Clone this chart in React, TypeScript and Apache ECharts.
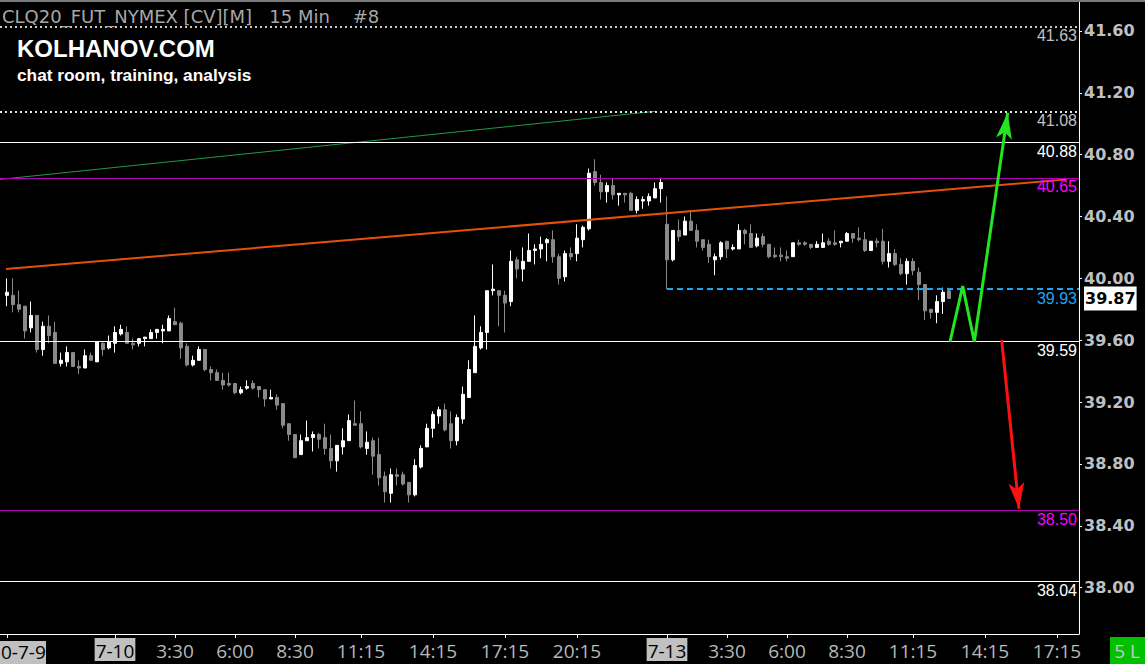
import React, { useEffect, useRef } from "react";
import * as echarts from "echarts";

// 15-minute bars, each [open, close, low, high]
const ohlc: number[][] = [
  [39.89, 39.91, 39.82, 40.0], [39.89, 39.83, 39.78, 40.0], [39.83, 39.8, 39.78, 39.92], [39.82, 39.66, 39.61, 39.82],
  [39.68, 39.76, 39.65, 39.85], [39.76, 39.54, 39.52, 39.76], [39.54, 39.69, 39.5, 39.72], [39.69, 39.63, 39.58, 39.76],
  [39.65, 39.45, 39.45, 39.72], [39.45, 39.47, 39.43, 39.52], [39.46, 39.52, 39.43, 39.56], [39.52, 39.43, 39.43, 39.52],
  [39.43, 39.42, 39.38, 39.47], [39.42, 39.5, 39.42, 39.54], [39.5, 39.47, 39.47, 39.52], [39.46, 39.59, 39.46, 39.59],
  [39.58, 39.54, 39.5, 39.59], [39.55, 39.59, 39.54, 39.63], [39.58, 39.65, 39.52, 39.69], [39.64, 39.67, 39.63, 39.7],
  [39.65, 39.58, 39.58, 39.69], [39.58, 39.57, 39.54, 39.61], [39.58, 39.61, 39.56, 39.61], [39.61, 39.62, 39.56, 39.62],
  [39.61, 39.65, 39.61, 39.67], [39.65, 39.67, 39.61, 39.67], [39.66, 39.67, 39.58, 39.7], [39.66, 39.74, 39.66, 39.76],
  [39.72, 39.7, 39.7, 39.81], [39.71, 39.55, 39.48, 39.72], [39.56, 39.44, 39.43, 39.58], [39.44, 39.47, 39.43, 39.5],
  [39.47, 39.54, 39.47, 39.56], [39.54, 39.41, 39.4, 39.54], [39.41, 39.39, 39.34, 39.43], [39.39, 39.34, 39.34, 39.41],
  [39.34, 39.31, 39.28, 39.39], [39.32, 39.31, 39.3, 39.39], [39.32, 39.26, 39.25, 39.32], [39.26, 39.28, 39.25, 39.3],
  [39.29, 39.3, 39.28, 39.34], [39.32, 39.29, 39.28, 39.34], [39.3, 39.28, 39.23, 39.3], [39.28, 39.22, 39.17, 39.28],
  [39.22, 39.23, 39.22, 39.28], [39.23, 39.18, 39.15, 39.25], [39.19, 39.05, 39.03, 39.19], [39.06, 38.99, 38.95, 39.06],
  [38.99, 38.84, 38.84, 38.99], [38.86, 38.95, 38.86, 38.99], [38.95, 38.97, 38.95, 39.08], [38.97, 38.99, 38.88, 39.01],
  [38.99, 38.96, 38.9, 39.0], [38.97, 38.9, 38.86, 39.06], [38.9, 38.82, 38.77, 38.99], [38.82, 38.92, 38.75, 38.92],
  [38.91, 38.95, 38.86, 39.03], [38.95, 39.08, 38.95, 39.12], [39.06, 39.05, 39.05, 39.21], [39.06, 38.91, 38.9, 39.14],
  [38.9, 38.94, 38.86, 39.01], [38.95, 38.85, 38.73, 38.97], [38.86, 38.71, 38.66, 38.97], [38.72, 38.62, 38.55, 38.75],
  [38.61, 38.73, 38.55, 38.77], [38.73, 38.72, 38.66, 38.77], [38.73, 38.67, 38.66, 38.75], [38.68, 38.6, 38.55, 38.68],
  [38.6, 38.79, 38.59, 38.83], [38.78, 38.9, 38.77, 38.92], [38.91, 39.03, 38.91, 39.06], [39.03, 39.12, 38.97, 39.14],
  [39.11, 39.15, 39.06, 39.17], [39.15, 39.02, 39.01, 39.19], [39.06, 38.95, 38.9, 39.14], [38.95, 39.1, 38.92, 39.12],
  [39.09, 39.25, 39.06, 39.3], [39.23, 39.41, 39.23, 39.47], [39.39, 39.56, 39.39, 39.76], [39.55, 39.65, 39.54, 39.69],
  [39.65, 39.92, 39.54, 39.92], [39.92, 39.93, 39.89, 40.09], [39.92, 39.89, 39.69, 39.92], [39.89, 39.84, 39.65, 39.92],
  [39.85, 40.11, 39.82, 40.18], [40.12, 40.06, 40.0, 40.14], [40.06, 40.11, 39.98, 40.2], [40.11, 40.18, 40.11, 40.29],
  [40.18, 40.19, 40.09, 40.22], [40.19, 40.22, 40.13, 40.27], [40.23, 40.25, 40.11, 40.26], [40.25, 40.14, 40.1, 40.31],
  [40.14, 40.0, 39.96, 40.16], [40.01, 40.16, 39.98, 40.18], [40.16, 40.14, 40.12, 40.2], [40.16, 40.26, 40.11, 40.35],
  [40.25, 40.33, 40.2, 40.34], [40.32, 40.68, 40.31, 40.71], [40.69, 40.62, 40.6, 40.77], [40.62, 40.56, 40.51, 40.67],
  [40.56, 40.6, 40.49, 40.62], [40.6, 40.54, 40.51, 40.65], [40.54, 40.55, 40.47, 40.55], [40.55, 40.54, 40.49, 40.55],
  [40.55, 40.44, 40.44, 40.56], [40.44, 40.51, 40.42, 40.53], [40.5, 40.51, 40.45, 40.53], [40.5, 40.53, 40.47, 40.55],
  [40.52, 40.58, 40.52, 40.62], [40.58, 40.62, 40.49, 40.65],
  // 7-13
  [40.35, 40.12, 39.93, 40.53], [40.12, 40.31, 40.11, 40.31], [40.31, 40.27, 40.24, 40.38], [40.28, 40.37, 40.28, 40.4],
  [40.37, 40.31, 40.31, 40.44], [40.31, 40.24, 40.2, 40.35], [40.25, 40.2, 40.18, 40.25], [40.22, 40.14, 40.1, 40.25],
  [40.12, 40.14, 40.02, 40.16], [40.14, 40.23, 40.12, 40.24], [40.24, 40.19, 40.13, 40.24], [40.19, 40.2, 40.18, 40.22],
  [40.19, 40.31, 40.19, 40.35], [40.31, 40.29, 40.22, 40.32], [40.29, 40.2, 40.2, 40.35], [40.21, 40.26, 40.2, 40.29],
  [40.27, 40.22, 40.2, 40.29], [40.22, 40.14, 40.13, 40.22], [40.15, 40.14, 40.13, 40.2], [40.15, 40.14, 40.11, 40.2],
  [40.14, 40.13, 40.11, 40.18], [40.14, 40.23, 40.14, 40.23], [40.23, 40.22, 40.21, 40.25], [40.23, 40.22, 40.21, 40.24],
  [40.22, 40.2, 40.19, 40.22], [40.2, 40.22, 40.2, 40.24], [40.2, 40.23, 40.2, 40.29], [40.24, 40.22, 40.21, 40.26],
  [40.23, 40.22, 40.21, 40.31], [40.23, 40.24, 40.2, 40.24], [40.24, 40.29, 40.24, 40.3], [40.29, 40.26, 40.23, 40.29],
  [40.26, 40.25, 40.24, 40.33], [40.25, 40.18, 40.17, 40.3], [40.18, 40.24, 40.18, 40.24], [40.24, 40.23, 40.2, 40.26],
  [40.24, 40.11, 40.09, 40.32], [40.11, 40.16, 40.07, 40.24], [40.16, 40.09, 40.08, 40.19], [40.09, 40.03, 40.02, 40.13],
  [40.03, 40.11, 39.96, 40.13], [40.11, 40.05, 40.02, 40.13], [40.04, 39.96, 39.86, 40.07], [39.96, 39.79, 39.73, 39.96],
  [39.8, 39.78, 39.74, 39.8], [39.78, 39.85, 39.71, 39.89], [39.85, 39.91, 39.77, 39.94], [39.92, 39.87, 39.87, 39.94],
];

const xTickIndex = [0, 18, 28, 38, 48, 59, 71, 83, 95, 110, 120, 130, 140, 151, 163, 175];
const xTickLabels = ["", "7-10", "3:30", "6:00", "8:30", "11:15", "14:15", "17:15", "20:15", "7-13", "3:30", "6:00", "8:30", "11:15", "14:15", "17:15"];
const firstDateLabel = "0-7-9";
const dateLabels = ["7-10", "7-13"];
const yTicks = [38.0, 38.4, 38.8, 39.2, 39.6, 40.0, 40.4, 40.8, 41.2, 41.6];

const levelPrices = [41.63, 41.08, 40.88, 40.65, 39.59, 38.5, 38.04];
const gapLevelBar = 110;
const gapLevelPrice = 39.93;
const greenTrend = [[-1.17, 40.64], [108, 41.08]];
const orangeTrend = [[-0.17, 40.06], [176.67, 40.64]];
const greenPath = [[157.17, 39.59], [159.28, 39.95], [161.22, 39.59], [166.78, 41.07]];
const redPath = [[165.78, 39.6], [168.67, 38.51]];

const titleText = "CLQ20_FUT_NYMEX [CV][M]\u00a0\u00a0 15 Min\u00a0\u00a0\u00a0 #8";
const brandText = "KOLHANOV.COM";
const taglineText = "chat room, training, analysis";
const barsText = "5 L";

const X_MIN = -7 / 6;
const X_MAX = X_MIN + 1079 / 6;

export default function App() {
  const ref = useRef<HTMLDivElement>(null);

  useEffect(() => {
    document.body.style.margin = "0";
    document.body.style.background = "#000";
    const chart = echarts.init(ref.current!, null, { renderer: "svg" });

    const candleData = ohlc.map((d, i) => [i, d[0], d[1], d[2], d[3]]);
    const lastClose = ohlc[ohlc.length - 1][1];

    const levelStyles = [
      { line: "#c8c8c8", type: [2, 3], width: 2, text: "#c0c0c0" },
      { line: "#e6e6e6", type: [2, 3], width: 2, text: "#c0c0c0" },
      { line: "#ffffff", type: "solid", width: 1, text: "#ffffff" },
      { line: "#b000b0", type: "solid", width: 1, text: "#ff00ff" },
      { line: "#ffffff", type: "solid", width: 1, text: "#ffffff" },
      { line: "#b000b0", type: "solid", width: 1, text: "#ff00ff" },
      { line: "#ffffff", type: "solid", width: 1, text: "#ffffff" },
    ];
    const levelLabel = (color: string, text: string) => ({
      show: true,
      position: "insideEndBottom",
      distance: [2, 1],
      formatter: text,
      color,
      fontFamily: "Liberation Sans",
      fontSize: 16,
    });

    const arrowSeries = (pts: number[][], color: string, size: number[]) => ({
      type: "line",
      data: pts.slice(0, pts.length - 1),
      symbol: "none",
      silent: true,
      z: 5,
      lineStyle: { color, width: 3, join: "miter" },
      markLine: {
        silent: true,
        animation: false,
        lineStyle: { color, width: 3, type: "solid" },
        label: { show: false },
        data: [
          [
            { coord: pts[pts.length - 2], symbol: "none" },
            { coord: pts[pts.length - 1], symbol: "arrow", symbolSize: size },
          ],
        ],
      },
    });

    chart.setOption({
      animation: false,
      backgroundColor: "#000",
      grid: { left: 0, right: 66, top: 0, bottom: 30, containLabel: false, outerBoundsMode: "none" },
      xAxis: {
        type: "value",
        min: X_MIN,
        max: X_MAX,
        axisLine: { show: true, onZero: false, lineStyle: { color: "#ffffff", width: 1 } },
        axisTick: { show: true, length: 4, customValues: xTickIndex, lineStyle: { color: "#ffffff" } },
        splitLine: { show: false },
        axisLabel: {
          customValues: xTickIndex.slice(1),
          margin: 4,
          formatter: (v: number) => {
            const k = xTickIndex.indexOf(Math.round(v));
            const t = k >= 0 ? xTickLabels[k] : "";
            return dateLabels.includes(t) ? `{d|${t}}` : `{t|${t}}`;
          },
          rich: {
            d: { backgroundColor: "#c0c0c0", color: "#000", padding: [3, 1, 1, 1], fontFamily: "Open Sans", fontSize: 19 },
            t: { color: "#b8b8b8", padding: [3, 0, 1, 0], fontFamily: "Open Sans", fontSize: 19 },
          },
        },
      },
      yAxis: {
        type: "value",
        position: "right",
        min: 37.7,
        max: 41.8,
        axisLine: { show: true, onZero: false, lineStyle: { color: "#ffffff", width: 1 } },
        axisTick: { show: true, length: 3, customValues: yTicks, lineStyle: { color: "#ffffff" } },
        splitLine: { show: false },
        axisLabel: {
          customValues: yTicks,
          margin: 5,
          formatter: (v: number) => v.toFixed(2),
          color: "#c0c0c0",
          fontFamily: "DejaVu Sans",
          fontWeight: "bold",
          fontSize: 16,
        },
      },
      series: [
        {
          type: "candlestick",
          data: candleData,
          barWidth: 3,
          silent: true,
          itemStyle: { color: "#ffffff", color0: "#8a8a8a", borderColor: "#ffffff", borderColor0: "#8a8a8a", borderWidth: 1 },
          markLine: {
            silent: true,
            animation: false,
            symbol: "none",
            data: [
              ...levelPrices.map((p, k) => ({
                yAxis: p,
                lineStyle: { color: levelStyles[k].line, type: levelStyles[k].type, width: levelStyles[k].width },
                label: levelLabel(levelStyles[k].text, p.toFixed(2)),
              })),
              [
                {
                  coord: [gapLevelBar, gapLevelPrice],
                  lineStyle: { color: "#1ea4f0", type: [6, 4], width: 2 },
                  label: levelLabel("#1ea4f0", gapLevelPrice.toFixed(2)),
                },
                { coord: [X_MAX, gapLevelPrice] },
              ],
              {
                yAxis: lastClose,
                lineStyle: { color: "rgba(0,0,0,0)", width: 1 },
                label: {
                  show: true,
                  position: "end",
                  distance: 5,
                  formatter: lastClose.toFixed(2),
                  color: "#000",
                  backgroundColor: "#ffffff",
                  padding: [5, 1, 3, 1],
                  fontFamily: "DejaVu Sans",
                  fontWeight: "bold",
                  fontSize: 16,
                },
              },
            ],
          },
        },
        {
          type: "line",
          data: greenTrend,
          symbol: "none",
          silent: true,
          z: 4,
          lineStyle: { color: "#1f9a48", width: 1 },
        },
        {
          type: "line",
          data: orangeTrend,
          symbol: "none",
          silent: true,
          z: 4,
          lineStyle: { color: "#e5500c", width: 2 },
        },
        arrowSeries(greenPath, "#22e622", [12, 26]),
        arrowSeries(redPath, "#ff1010", [12, 26]),
      ],
      graphic: [
        { type: "rect", x: 0, y: 0, z: 100, shape: { width: 1145, height: 2 }, style: { fill: "#7a7a7a" } },
        {
          type: "text", x: 2, y: 16, z: 100,
          style: { text: titleText, fill: "#a8a8a8", fontFamily: "DejaVu Sans", fontSize: 18, verticalAlign: "middle" },
        },
        {
          type: "text", x: 17, y: 48, z: 100,
          style: { text: brandText, fill: "#ffffff", fontFamily: "Liberation Sans", fontWeight: "bold", fontSize: 24, verticalAlign: "middle" },
        },
        {
          type: "text", x: 17, y: 75, z: 100,
          style: { text: taglineText, fill: "#ffffff", fontFamily: "Liberation Sans", fontWeight: "bold", fontSize: 17.3, verticalAlign: "middle" },
        },
        { type: "rect", x: 0, y: 641, z: 100, shape: { width: 46, height: 23 }, style: { fill: "#c0c0c0" } },
        {
          type: "text", x: 1, y: 652, z: 101,
          style: { text: firstDateLabel, fill: "#000", fontFamily: "Open Sans", fontSize: 19, verticalAlign: "middle" },
        },
        { type: "rect", x: 1110, y: 637, z: 100, shape: { width: 35, height: 27 }, style: { fill: "#00c000" } },
        {
          type: "text", x: 1127, y: 651, z: 101,
          style: { text: barsText, fill: "#c8c8c8", fontFamily: "Open Sans", fontSize: 19, align: "center", verticalAlign: "middle" },
        },
      ],
    });

    return () => chart.dispose();
  }, []);

  return <div ref={ref} style={{ width: 1145, height: 664, background: "#000" }} />;
}
